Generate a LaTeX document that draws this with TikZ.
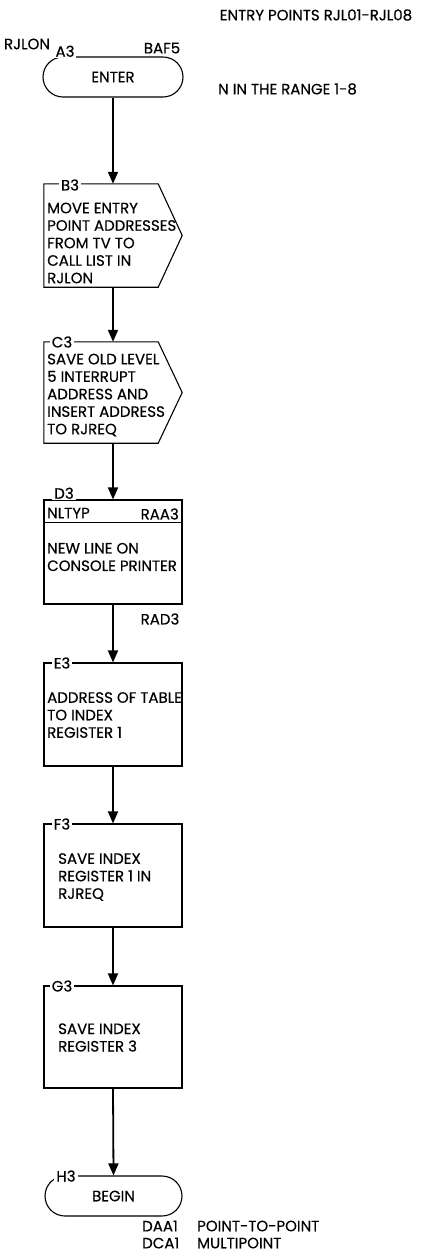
\documentclass[tikz,border=0pt]{standalone}
\usepackage{fontspec}
\setmainfont{Poppins}[FakeBold=0.4]
\usetikzlibrary{arrows.meta}
\begin{document}
\begin{tikzpicture}[x=1pt,y=-1pt,
  every node/.style={font=\fontsize{15}{17.5}\selectfont, inner sep=0pt},
  outline/.style={draw, line width=1.1pt},
  flow/.style={line width=1.8pt, -{Triangle[length=12pt,width=10pt]}},
  lab/.style={fill=white, inner xsep=2pt, inner ysep=1pt},
  body/.style={align=left, anchor=west},
  boxsz/.style={minimum width=138pt, minimum height=#1},
]
\useasboundingbox (0,0) rectangle (422,1256);

% A3 terminal
\node[outline, rounded corners=20pt, minimum width=140pt, minimum height=40pt] (A) at (113,77) {ENTER};
\node (rjlon) at (27,44) {RJLON};
\node (baf5) at (162,48) {BAF5};
\node[lab, anchor=south] (a3) at (65,58) {A3};
\node (entry) at (316,15) {ENTRY POINTS RJL01-RJL08};
\node[anchor=west] (range) at (218,89) {N IN THE RANGE 1-8};

% B3
\node[boxsz=103pt] (B) at (113,235.5) {};
\draw[line width=1.1pt] (B.north west) -- ([xshift=-24pt]B.north east) -- (B.east) -- ([xshift=-24pt]B.south east) -- (B.south west) -- cycle;
\node[lab] (b3) at (70,185) {B3};
\node[body] (tB) at (47,243) {MOVE ENTRY\\POINT ADDRESSES\\FROM TV TO\\CALL LIST IN\\RJLON};

% C3
\node[boxsz=101pt] (C) at (113,392.5) {};
\draw[line width=1.1pt] (C.north west) -- ([xshift=-24pt]C.north east) -- (C.east) -- ([xshift=-24pt]C.south east) -- (C.south west) -- cycle;
\node[lab] (c3) at (62,342) {C3};
\node[body] (tC) at (47,395) {SAVE OLD LEVEL\\5 INTERRUPT\\ADDRESS AND\\INSERT ADDRESS\\TO RJREQ};

% D3
\node[outline, boxsz=104pt] (D) at (113,552) {};
\draw[line width=1.1pt] ([yshift=-23pt]D.north west) -- ([yshift=-23pt]D.north east);
\node[lab, anchor=south] (d3) at (64,500) {D3};
\node[anchor=west] (nltyp) at (47,513) {NLTYP};
\node[anchor=east] (raa3) at (179,514) {RAA3};
\node[body] (tD) at (47,557) {NEW LINE ON\\CONSOLE PRINTER};
\node (rad3) at (160,619) {RAD3};

% E3
\node[outline, boxsz=103pt] (E) at (113,714.5) {};
\node[lab] (e3) at (62,663) {E3};
\node[body] (tE) at (47,715) {ADDRESS OF TABLE\\TO INDEX\\REGISTER 1};

% F3
\node[outline, boxsz=103pt] (F) at (113,875.5) {};
\node[lab] (f3) at (62,824) {F3};
\node[body] (tF) at (58,877) {SAVE INDEX\\REGISTER 1 IN\\RJREQ};

% G3
\node[outline, boxsz=102pt] (G) at (113,1037) {};
\node[lab] (g3) at (62,986) {G3};
\node[body] (tG) at (58,1037.5) {SAVE INDEX\\REGISTER 3};

% H3 terminal
\node[outline, rounded corners=20pt, minimum width=137pt, minimum height=40pt] (H) at (113.5,1196) {BEGIN};
\node[lab] (h3) at (66,1176) {H3};
\node[anchor=west] (daa1) at (142,1226) {DAA1};
\node[anchor=west] (p2p) at (197,1226) {POINT-TO-POINT};
\node[anchor=west] (dca1) at (142,1243) {DCA1};
\node[anchor=west] (mp) at (197,1243) {MULTIPOINT};

% connectors
\draw[flow] (A.south) -- (B.north);
\draw[flow] (B.south) -- (C.north);
\draw[flow] (C.south) -- (D.north);
\draw[flow] (D.south) -- (E.north);
\draw[flow] (E.south) -- (F.north);
\draw[flow] (F.south) -- (G.north);
\draw[flow] (G.south) -- (H.north);
\end{tikzpicture}
\end{document}
